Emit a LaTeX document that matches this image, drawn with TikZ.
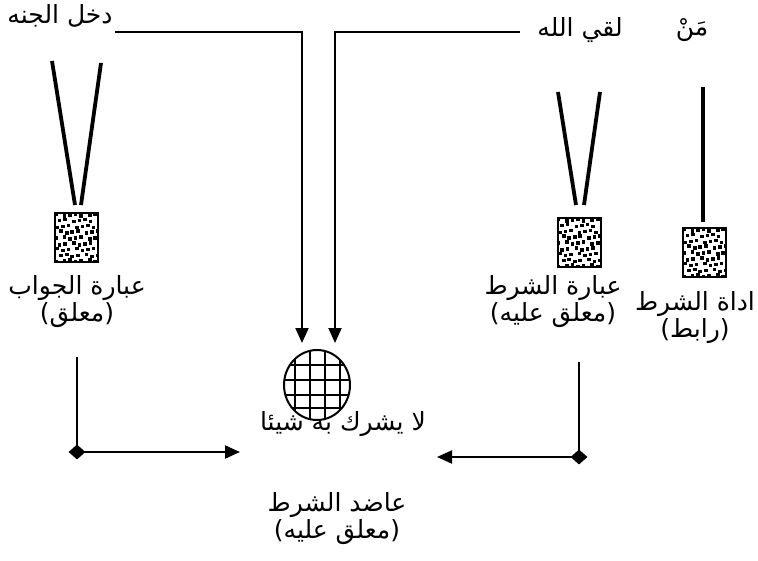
\documentclass[tikz,border=0pt]{standalone}
\usepackage{fontspec}
\usetikzlibrary{arrows.meta,shapes.geometric}
\newfontfamily\arabicfont[Script=Arabic]{DejaVu Sans}
\TeXXeTstate=1
\newcommand{\ar}[1]{\beginR #1\endR}
\begin{document}
\begin{tikzpicture}[x=1pt,y=-1pt,
  vline/.style={line width=3.8pt},
  conn/.style={line width=2pt},
  arr/.style={conn,-{Triangle[length=15pt,width=13pt]}},
  dotbox/.style={draw,line width=2pt,minimum width=43pt,minimum height=49pt,inner sep=0pt,
    path picture={
      \foreach \i in {0,...,8}{\foreach \j in {0,...,6}{
        \pgfmathsetmacro{\dx}{\j*6.3+mod(\i*5+\j*3,4)*0.8+mod(\i,2)*3-1}
        \pgfmathsetmacro{\dy}{\i*5.8+mod(\i+\j*2,3)-1}
        \fill ([xshift=\dx pt,yshift=-\dy pt]path picture bounding box.north west) rectangle ++(3.6pt,-3.6pt);}}}},
  gridell/.style={ellipse,draw,line width=2pt,minimum width=66pt,minimum height=70pt,inner sep=0pt,
    path picture={
      \foreach \k in {-37,-22,-7,8,23,38}{\draw[line width=1.5pt] ([xshift=\k pt]path picture bounding box.center) ++(0pt,-50pt) -- ++(0pt,100pt);}
      \foreach \k in {-35,-20,-5,10,23}{\draw[line width=1.5pt] ([yshift=-\k pt]path picture bounding box.center) ++(-50pt,0pt) -- ++(100pt,0pt);}}},
  lbl/.style={font=\arabicfont\fontsize{25}{27}\selectfont,align=center,inner sep=0pt},
  dia/.style={diamond,fill=black,minimum width=17pt,minimum height=15pt,inner sep=0pt}]
\useasboundingbox (0,0) rectangle (758,560);

% top texts
\node[lbl] (jannah) at (60,16) {\ar{دخل الجنه}};
\node[lbl] (laqi) at (580,30) {\ar{لقي الله}};
\node[lbl] (man) at (692,30) {\ar{مَنْ}};

% V shapes and single line
\coordinate (vl1) at (52,61); \coordinate (vl2) at (75,205);
\coordinate (vl3) at (101,63); \coordinate (vl4) at (81,205);
\draw[vline] (vl1) -- (vl2); \draw[vline] (vl3) -- (vl4);
\coordinate (vr1) at (558,92); \coordinate (vr2) at (576,205);
\coordinate (vr3) at (600,92); \coordinate (vr4) at (584,205);
\draw[vline] (vr1) -- (vr2); \draw[vline] (vr3) -- (vr4);
\coordinate (s1) at (703,87); \coordinate (s2) at (703,222);
\draw[vline] (s1) -- (s2);

% boxes
\node[dotbox] (boxL) at (76.5,237.5) {};
\node[dotbox] (boxM) at (579,242.5) {};
\node[dotbox] (boxR) at (704.5,252.5) {};

% labels
\node[lbl] (jawab) at (77,302) {\ar{عبارة الجواب}\\\ar{(معلق)}};
\node[lbl] (shart) at (553,302) {\ar{عبارة الشرط}\\\ar{(معلق عليه)}};
\node[lbl] (adat) at (695,318) {\ar{اداة الشرط}\\\ar{(رابط)}};

% central ellipse
\node[gridell] (ell) at (317,385) {};
\node[lbl] (yushrik) at (343,424) {\ar{لا يشرك به شيئا}};
\node[lbl] (aadid) at (337,519) {\ar{عاضد الشرط}\\\ar{(معلق عليه)}};

% top arrows
\coordinate (a1) at (115,32); \coordinate (tA) at (302,343);
\coordinate (b1) at (520,32); \coordinate (tB) at (335,343);
\draw[arr] (a1) -| (tA);
\draw[arr] (b1) -| (tB);

% bottom arrows
\coordinate (lst) at (77,357); \node[dia] (dL) at (77,452) {}; \coordinate (lend) at (240,452);
\draw[conn] (lst) -- (dL.center); \draw[arr] (dL.center) -- (lend);
\coordinate (rst) at (579,362); \node[dia] (dR) at (579,457) {}; \coordinate (rend) at (437,457);
\draw[conn] (rst) -- (dR.center); \draw[arr] (dR.center) -- (rend);
\end{tikzpicture}
\end{document}
